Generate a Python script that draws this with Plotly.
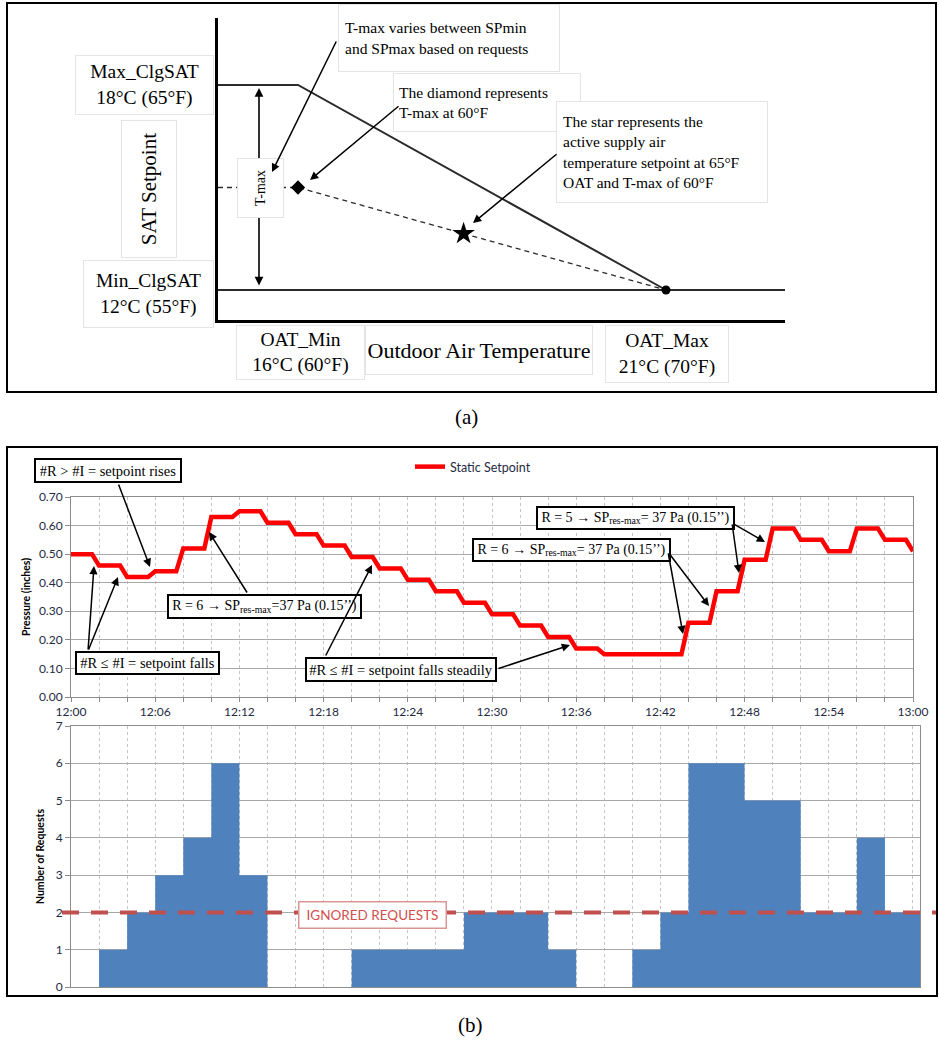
import plotly.graph_objects as go

W, H = 939, 1042

# ---------------- Panel (a): conceptual SAT reset diagram (°F) ----------------
oat_min_f = 60
oat_max_f = 70
sat_max_f = 65
sat_min_f = 55
tmax_f = 60
star_oat_f = 64.5

# ---------------- Panel (b): trend data ----------------
sp_minutes = [0, 2, 4, 6, 8, 10, 12, 14, 16, 18, 20, 22, 24, 26, 28, 30,
              32, 34, 36, 38, 40, 42, 44, 46, 48, 50, 52, 54, 56, 58, 60]
sp_values = [0.50, 0.46, 0.42, 0.44, 0.52, 0.63, 0.65, 0.61, 0.57, 0.53, 0.49,
             0.45, 0.41, 0.37, 0.33, 0.29, 0.25, 0.21, 0.17, 0.15, 0.15, 0.15,
             0.26, 0.37, 0.48, 0.59, 0.55, 0.51, 0.59, 0.55, 0.51]
tick_minutes = [0, 6, 12, 18, 24, 30, 36, 42, 48, 54, 60]
tick_labels = ["12:00", "12:06", "12:12", "12:18", "12:24", "12:30",
               "12:36", "12:42", "12:48", "12:54", "13:00"]
req_edges = [0, 2, 4, 6, 8, 10, 12, 14, 16, 18, 20, 22, 24, 26, 28, 30,
             32, 34, 36, 38, 40, 42, 44, 46, 48, 50, 52, 54, 56, 58, 60.5]
req_values = [0, 1, 2, 3, 4, 6, 3, 0, 0, 0, 1, 1, 1, 1, 2, 2, 2, 1, 0, 0,
              1, 2, 6, 6, 5, 5, 2, 2, 4, 2]
ignored_requests = 2

SERIF = "Liberation Serif"
SANS = "Lato"
TICKC = "#1F2A44"


def px(x):
    return x / W


def py(y):
    return 1 - y / H


fig = go.Figure()

# ---------- diagram axes mapping ----------
xpp = (666 - 298) / (oat_max_f - oat_min_f)
ypp = (290 - 85) / (sat_max_f - sat_min_f)
x3r = [oat_min_f - (298 - 218) / xpp, oat_max_f + (785 - 666) / xpp]
y3r = [sat_min_f - (320 - 290) / ypp, sat_max_f + (85 - 18) / ypp]

fig.add_trace(go.Scatter(x=[x3r[0], oat_min_f, oat_max_f], y=[sat_max_f, sat_max_f, sat_min_f],
                         mode="lines", line=dict(color="#2b2b2b", width=2),
                         xaxis="x3", yaxis="y3", showlegend=False, hoverinfo="skip"))
fig.add_trace(go.Scatter(x=[x3r[0], x3r[1]], y=[sat_min_f, sat_min_f],
                         mode="lines", line=dict(color="#2b2b2b", width=2),
                         xaxis="x3", yaxis="y3", showlegend=False, hoverinfo="skip"))
fig.add_trace(go.Scatter(x=[x3r[0], oat_min_f, oat_max_f], y=[tmax_f, tmax_f, sat_min_f],
                         mode="lines", line=dict(color="#2b2b2b", width=1.3, dash="5px,4px"),
                         xaxis="x3", yaxis="y3", showlegend=False, hoverinfo="skip"))
star_sat = tmax_f + (star_oat_f - oat_min_f) * (sat_min_f - tmax_f) / (oat_max_f - oat_min_f)
fig.add_trace(go.Scatter(x=[oat_min_f], y=[tmax_f], mode="markers",
                         marker=dict(symbol="diamond", size=11, color="black"),
                         xaxis="x3", yaxis="y3", showlegend=False, hoverinfo="skip"))
fig.add_trace(go.Scatter(x=[star_oat_f], y=[star_sat], mode="markers",
                         marker=dict(symbol="star", size=17, color="black"),
                         xaxis="x3", yaxis="y3", showlegend=False, hoverinfo="skip"))
fig.add_trace(go.Scatter(x=[oat_max_f], y=[sat_min_f], mode="markers",
                         marker=dict(symbol="circle", size=9, color="black"),
                         xaxis="x3", yaxis="y3", showlegend=False, hoverinfo="skip"))

# ---------- setpoint line ----------
lx, ly = [], []
for i in range(len(sp_minutes) - 1):
    lx += [sp_minutes[i], sp_minutes[i] + 1.5]
    ly += [sp_values[i], sp_values[i]]
lx.append(sp_minutes[-1])
ly.append(sp_values[-1])
fig.add_trace(go.Scatter(x=lx, y=ly, mode="lines", name="Static Setpoint",
                         line=dict(color="#FF0000", width=4.5),
                         xaxis="x", yaxis="y", showlegend=True))

# ---------- request columns (stepped filled area, no seams) ----------
fx = list(req_edges)
fy = list(req_values) + [req_values[-1]]
fig.add_trace(go.Scatter(x=fx, y=fy, mode="lines", line=dict(shape="hv", width=0, color="#4F81BD"),
                         fill="tozeroy", fillcolor="#4F81BD",
                         xaxis="x2", yaxis="y2", showlegend=False, hoverinfo="skip"))

gridc = "#A9A9A9"
vgridc = "#C4C4C4"
axc = "#8C8C8C"

fig.update_layout(
    width=W, height=H, margin=dict(l=0, r=0, t=0, b=0, autoexpand=False),
    paper_bgcolor="white", plot_bgcolor="white",
    showlegend=True,
    legend=dict(x=px(410), y=py(467), xanchor="left", yanchor="middle",
                orientation="h", font=dict(family=SANS, size=12.5, color=TICKC),
                bgcolor="rgba(0,0,0,0)", itemwidth=30),
    xaxis=dict(domain=[px(71), px(913)], range=[0, 60], anchor="y", automargin=False,
               tickvals=tick_minutes, ticktext=tick_labels,
               tickfont=dict(family=SANS, size=12, color=TICKC),
               showgrid=True, gridcolor=vgridc, griddash="dot", gridwidth=1,
               minor=dict(dtick=2, showgrid=True, gridcolor=vgridc, griddash="dot",
                          ticks="outside", ticklen=4, tickcolor=axc),
               ticks="outside", ticklen=4, tickcolor=axc,
               showline=True, linecolor=axc, linewidth=1, mirror=True, zeroline=False),
    yaxis=dict(domain=[py(697), py(497)], range=[0, 0.7], anchor="x", automargin=False,
               dtick=0.1, tickformat=".2f",
               tickfont=dict(family=SANS, size=12, color=TICKC),
               showgrid=True, gridcolor=gridc, gridwidth=1,
               ticks="outside", ticklen=5, tickcolor=axc,
               showline=True, linecolor=axc, linewidth=1, mirror=True, zeroline=False,
               title=dict(text="<b>Pressure (inches)</b>", standoff=6,
                          font=dict(family=SANS, size=10.5, color="black"))),
    xaxis2=dict(domain=[px(71), px(920)], range=[0, 60.5], anchor="y2", automargin=False,
                tickvals=tick_minutes, showticklabels=False,
                showgrid=True, gridcolor=vgridc, griddash="dot", gridwidth=1,
                minor=dict(dtick=2, showgrid=True, gridcolor=vgridc, griddash="dot"),
                showline=True, linecolor=axc, linewidth=1, mirror=True, zeroline=False),
    yaxis2=dict(domain=[py(987), py(726)], range=[0, 7], anchor="x2", dtick=1, automargin=False,
                tickfont=dict(family=SANS, size=12, color=TICKC),
                showgrid=True, gridcolor=gridc, gridwidth=1,
                ticks="outside", ticklen=5, tickcolor=axc,
                showline=True, linecolor=axc, linewidth=1, mirror=True, zeroline=False,
                title=dict(text="<b>Number of Requests</b>", standoff=8,
                           font=dict(family=SANS, size=10.5, color="black"))),
    xaxis3=dict(domain=[px(218), px(785)], range=x3r, anchor="y3", automargin=False,
                showgrid=False, zeroline=False, showticklabels=False, ticks="",
                showline=True, linecolor="black", linewidth=3),
    yaxis3=dict(domain=[py(320), py(18)], range=y3r, anchor="x3", automargin=False,
                showgrid=False, zeroline=False, showticklabels=False, ticks="",
                showline=True, linecolor="black", linewidth=3),
)

shapes = []
# outer frames
shapes.append(dict(type="rect", xref="paper", yref="paper", x0=px(7), x1=px(936), y0=py(3), y1=py(392),
                   line=dict(color="black", width=2), layer="above"))
shapes.append(dict(type="rect", xref="paper", yref="paper", x0=px(7), x1=px(937), y0=py(447), y1=py(996),
                   line=dict(color="black", width=2), layer="above"))
# ignored-requests threshold line
shapes.append(dict(type="line", xref="paper", yref="y2", x0=px(62), x1=px(936),
                   y0=ignored_requests, y1=ignored_requests,
                   line=dict(color="#C0504D", width=4, dash="17px,12px"), layer="above"))
fig.update_layout(shapes=shapes)

ann = []


def tbox(cx, cy, w, h, text, size, family=SERIF, color="black", border="#E4E4E4", bwid=1,
         align="center", angle=0, pad=2, valign="middle"):
    ann.append(dict(xref="paper", yref="paper", x=px(cx), y=py(cy), xanchor="center", yanchor="middle",
                    text=text, showarrow=False, font=dict(family=family, size=size, color=color),
                    bgcolor="white", bordercolor=border, borderwidth=bwid, borderpad=pad,
                    width=w, height=h, align=align, valign=valign, textangle=angle))


def arrow(x0, y0, x1, y1, width=1.5, head=2, size=1.1):
    ann.append(dict(xref="paper", yref="paper", x=px(x1), y=py(y1), ax=x0 - x1, ay=y0 - y1,
                    axref="pixel", ayref="pixel", text="", showarrow=True, arrowhead=head,
                    arrowsize=size, arrowwidth=width, arrowcolor="black", standoff=0))


# ---- panel (a) labels ----
tbox(144, 85, 133, 54, "Max_ClgSAT<br>18°C (65°F)", 19.5)
tbox(149, 189, 132, 50, "SAT Setpoint", 21, angle=-90)
tbox(148, 294, 125, 62, "Min_ClgSAT<br>12°C (55°F)", 19.5)
tbox(300, 352, 123, 49, "OAT_Min<br>16°C (60°F)", 19.5)
tbox(479, 350, 222, 44, "Outdoor Air Temperature", 22)
tbox(667, 354, 118, 52, "OAT_Max<br>21°C (70°F)", 19.5)
tbox(449, 38, 208, 54, "T-max varies between SPmin<br>and SPmax based on requests", 15.5, align="left", pad=6)
tbox(487, 103, 176, 47, "The diamond represents<br>T-max at 60°F", 15.5, align="left", pad=5)
tbox(662, 152, 198, 88, "The star represents the<br>active supply air<br>temperature setpoint at 65°F<br>OAT and T-max of 60°F",
     15.5, align="left", pad=6)

# T-max double arrow (data coordinates of the diagram)
tmax_arrow_x = x3r[0] + (259 - 218) / xpp
ann.append(dict(xref="x3", yref="y3", x=tmax_arrow_x, y=sat_max_f, ax=tmax_arrow_x, ay=sat_min_f,
                axref="x3", ayref="y3", text="", showarrow=True, arrowhead=2, startarrowhead=2,
                arrowside="end+start", arrowsize=1.1, arrowwidth=1.6, arrowcolor="black",
                standoff=3, startstandoff=3))
tbox(260, 188, 54, 41, "T-max", 14, angle=-90)

arrow(337, 40, 272, 172)
arrow(400, 105, 310, 180)
arrow(558, 153, 473, 223)

ann.append(dict(xref="paper", yref="paper", x=px(466), y=py(417), text="(a)", showarrow=False,
                font=dict(family=SERIF, size=21, color="black"), xanchor="center", yanchor="middle"))
ann.append(dict(xref="paper", yref="paper", x=px(470), y=py(1025), text="(b)", showarrow=False,
                font=dict(family=SERIF, size=21, color="black"), xanchor="center", yanchor="middle"))

# ---- panel (b) callouts ----
BB = "black"
tbox(108, 470.5, 142, 19, "#R &gt; #I = setpoint rises", 14.5, border=BB, bwid=2, pad=1)
tbox(147.5, 663, 139, 18, "#R ≤ #I = setpoint falls", 14.5, border=BB, bwid=2, pad=1)
tbox(264.5, 606.5, 189, 19, "R = 6 <b>→</b> SP<sub>res-max</sub>=37 Pa (0.15’’)", 14, border=BB, bwid=2, pad=1)
tbox(401, 669.5, 186, 19, "#R ≤ #I = setpoint falls steadily", 14.5, border=BB, bwid=2, pad=1)
tbox(571.5, 549.5, 193, 18, "R = 6 <b>→</b> SP<sub>res-max</sub>= 37 Pa (0.15’’)", 14, border=BB, bwid=2, pad=1)
tbox(635.5, 517.5, 193, 18, "R = 5 <b>→</b> SP<sub>res-max</sub>= 37 Pa (0.15’’)", 14, border=BB, bwid=2, pad=1)

arrow(118, 483, 150, 567)
arrow(88, 651, 94, 566)
arrow(88, 651, 118, 577)
arrow(248, 594, 209, 532)
arrow(325, 657, 372, 565)
arrow(497, 669, 570, 645)
arrow(668, 552, 683, 634)
arrow(668, 552, 709, 606)
arrow(732, 523, 739, 573)
arrow(732, 523, 765, 542)

tbox(372.5, 914.5, 144, 23, "IGNORED REQUESTS", 13.5, family=SANS, color="#D0504D",
     border="#D99694", bwid=1.5, pad=1)

fig.update_layout(annotations=ann)

fig.write_html("out.html", config={"displayModeBar": False},
               post_script="document.body.style.margin='0';document.body.style.overflow='hidden';")
